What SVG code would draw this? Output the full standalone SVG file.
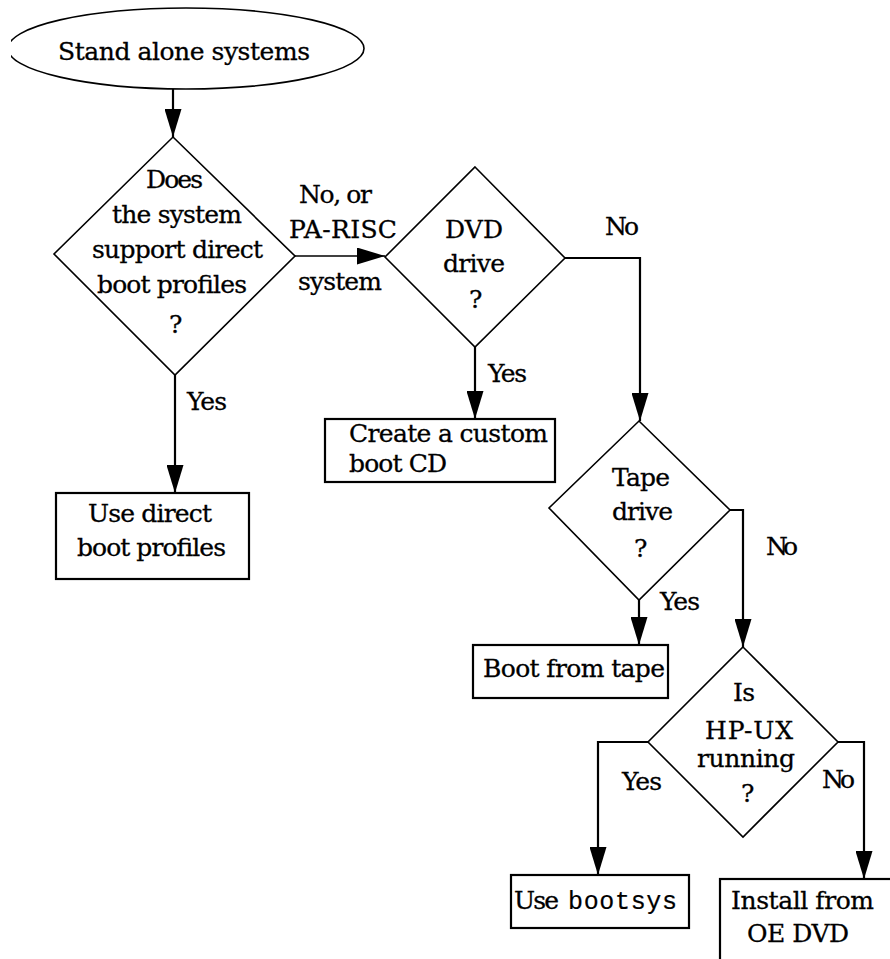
<svg xmlns="http://www.w3.org/2000/svg" width="890" height="959" viewBox="0 0 890 959">
  <style>
    .bg { fill: #ffffff; }
    .shape { fill: none; stroke: #000; stroke-width: 1.6; }
    .box { fill: none; stroke: #000; stroke-width: 2.2; }
    .conn { fill: none; stroke: #000; stroke-width: 2.2; marker-end: url(#arrow); }
    .conn.thin { stroke-width: 1.6; }
    text { font-family: "DejaVu Serif", "Liberation Serif", serif; font-size: 25px; fill: #000; stroke: #000; stroke-width: 0.3; }
    .mono { font-family: "Liberation Mono", "DejaVu Sans Mono", monospace; font-size: 25px; stroke-width: 0.2; }
  </style>
  <defs>
    <marker id="arrow" markerUnits="userSpaceOnUse" markerWidth="28" markerHeight="17" refX="28" refY="8.5" orient="auto">
      <path d="M0,0 L28,8.5 L0,17 z" fill="#000"/>
    </marker>
    <clipPath id="startClip">
      <rect x="11" y="0" width="879" height="120"/>
    </clipPath>
  </defs>

  <rect class="bg" x="0" y="0" width="890" height="959"/>

  <!-- connectors -->
  <g id="connectors">
    <path class="conn" d="M173,89 V137"/>
    <path class="conn thin" d="M295,256 H385"/>
    <path class="conn" d="M175,375 V493"/>
    <path class="conn" d="M475,347 V419"/>
    <path class="conn" d="M565,258 H640 V421"/>
    <path class="conn" d="M639,600 V645"/>
    <path class="conn" d="M730,510 H743 V647"/>
    <path class="conn" d="M648,742 H598 V875"/>
    <path class="conn" d="M838,742 H864 V879"/>
  </g>

  <!-- edge labels -->
  <g id="labels">
    <text x="299" y="203" textLength="73">No, or</text>
    <text x="289" y="238" textLength="108">PA-RISC</text>
    <text x="298" y="290" textLength="84">system</text>
    <text x="187" y="410" textLength="40">Yes</text>
    <text x="488" y="382" textLength="39">Yes</text>
    <text x="605" y="235" textLength="34">No</text>
    <text x="766" y="555" textLength="32">No</text>
    <text x="660" y="610" textLength="40">Yes</text>
    <text x="622" y="790" textLength="40">Yes</text>
    <text x="822" y="788" textLength="33">No</text>
  </g>

  <!-- start terminal -->
  <g id="start">
    <ellipse class="shape" cx="186" cy="48.5" rx="178" ry="40.5" clip-path="url(#startClip)"/>
    <text x="58" y="60" textLength="252">Stand alone systems</text>
  </g>

  <!-- decision: direct boot profiles -->
  <g id="q-direct-boot">
    <polygon class="shape" points="173,137 295,256 175,375 54,254"/>
    <text x="146" y="188" textLength="57">Does</text>
    <text x="112" y="223" textLength="130">the system</text>
    <text x="92" y="258" textLength="171">support direct</text>
    <text x="97" y="293" textLength="150">boot profiles</text>
    <text x="169" y="333">?</text>
  </g>

  <!-- decision: DVD drive -->
  <g id="q-dvd">
    <polygon class="shape" points="475,167 565,258 475,347 385,257"/>
    <text x="445" y="238" textLength="58">DVD</text>
    <text x="443" y="272" textLength="62">drive</text>
    <text x="469" y="308">?</text>
  </g>

  <!-- decision: tape drive -->
  <g id="q-tape">
    <polygon class="shape" points="639,421 730,510 639,600 549,508"/>
    <text x="612" y="486" textLength="58">Tape</text>
    <text x="612" y="520" textLength="61">drive</text>
    <text x="634" y="557">?</text>
  </g>

  <!-- decision: HP-UX running -->
  <g id="q-hpux">
    <polygon class="shape" points="743,647 838,742 743,837 648,742"/>
    <text x="733" y="701" textLength="22">Is</text>
    <text x="705" y="739" textLength="88">HP-UX</text>
    <text x="697" y="767" textLength="98">running</text>
    <text x="741" y="802">?</text>
  </g>

  <!-- actions -->
  <g id="use-direct-boot">
    <rect class="box" x="56" y="493" width="193" height="86"/>
    <text x="88" y="522" textLength="124">Use direct</text>
    <text x="77" y="556" textLength="149">boot profiles</text>
  </g>

  <g id="custom-boot-cd">
    <rect class="box" x="325" y="419" width="230" height="63"/>
    <text x="349" y="442" textLength="199">Create a custom</text>
    <text x="349" y="472" textLength="98">boot CD</text>
  </g>

  <g id="boot-from-tape">
    <rect class="box" x="473" y="645" width="195" height="53"/>
    <text x="483" y="677" textLength="182">Boot from tape</text>
  </g>

  <g id="use-bootsys">
    <rect class="box" x="511" y="875" width="178" height="53"/>
    <text x="514" y="909" textLength="45">Use</text>
    <text class="mono" x="568" y="909" textLength="109">bootsys</text>
  </g>

  <g id="install-oe-dvd">
    <rect class="box" x="720" y="879" width="200" height="120"/>
    <text x="731" y="909" textLength="143">Install from</text>
    <text x="747" y="942" textLength="102">OE DVD</text>
  </g>
</svg>
